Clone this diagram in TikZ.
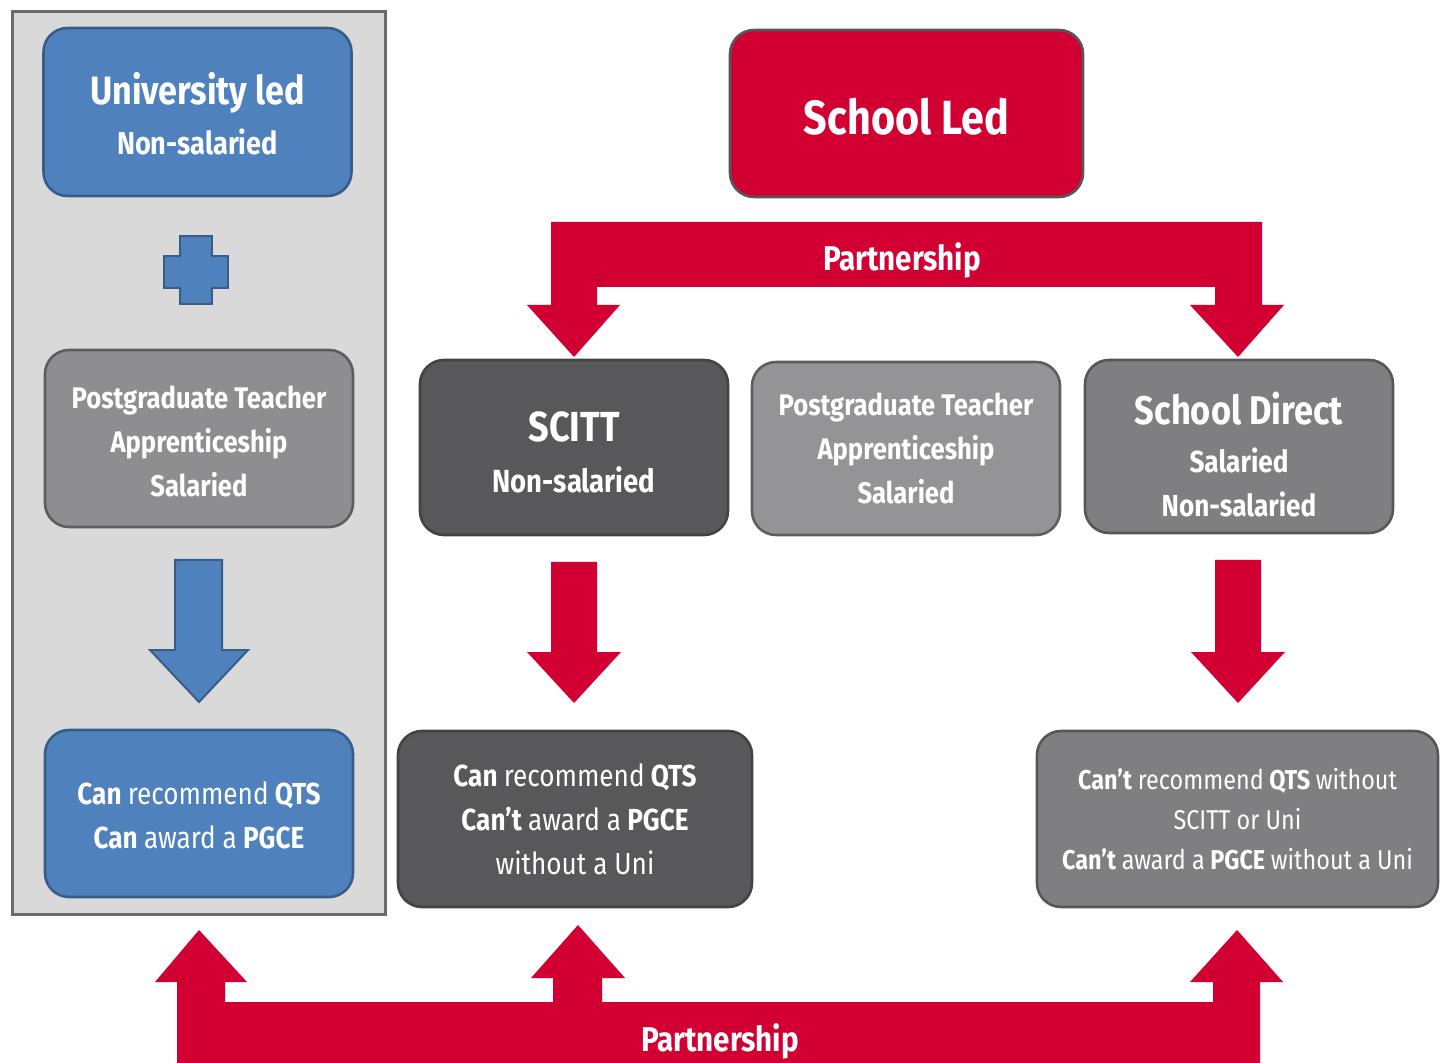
\documentclass[tikz,border=0pt]{standalone}
\usepackage{xcolor}
\usepackage{fontspec}
\setmainfont{Fira Sans}[FakeStretch=0.86]
\usepackage{tikz}

\definecolor{uniblue}{HTML}{4F81BD}
\definecolor{uniedge}{HTML}{385D8A}
\definecolor{schoolred}{HTML}{D20032}
\definecolor{panelgrey}{HTML}{D9D9D9}
\definecolor{paneledge}{HTML}{6B6B6B}
\definecolor{ptagrey}{HTML}{8E8E90}
\definecolor{ptaedge}{HTML}{5E5E5E}
\definecolor{scittgrey}{HTML}{58585A}
\definecolor{scittedge}{HTML}{434343}
\definecolor{sdgrey}{HTML}{7F7F81}
\definecolor{sdedge}{HTML}{575757}

% strut to push the text of a box down a little
\newcommand{\lift}[1]{\rule{0pt}{#1}}

\tikzset{
	box/.style={rounded corners=12pt, line width=1.3pt, minimum width=154pt, text=white, align=center, inner sep=0pt, font=\fontsize{15.2}{22}\selectfont\bfseries},
	unibox/.style={box, fill=uniblue, draw=uniedge},
	ledbox/.style={box, fill=schoolred, draw=sdedge},
	ptabox/.style={box, fill=ptagrey, draw=ptaedge, font=\fontsize{14.9}{22}\selectfont\bfseries},
	scittbox/.style={box, fill=scittgrey, draw=scittedge},
	sdbox/.style={box, fill=sdgrey, draw=sdedge},
}

\begin{document}
\begin{tikzpicture}[x=0.5pt,y=-0.5pt]
	\useasboundingbox (0,0) rectangle (1440,1063);
	
	% university led column
	\draw[fill=panelgrey, draw=paneledge, line width=1.5pt] (12,12) rectangle (385,914);
	
	\node[unibox, minimum height=84pt] (uni) at (197.5,112)
		{\lift{17.5pt}{\fontsize{19.8}{20}\selectfont University led}\\[3pt] {\fontsize{15.8}{20}\selectfont Non-salaried}};
	\draw[fill=uniblue, draw=uniedge, line width=1pt] (180,236) -- (212,236) -- (212,256) -- (228,256) -- (228,288) -- (212,288) -- (212,304) -- (180,304) -- (180,288) -- (164,288) -- (164,256) -- (180,256) -- cycle;
	\node[ptabox, minimum height=88.5pt] (ptaL) at (199,438.5)
		{\lift{14.2pt}Postgraduate Teacher\\ Apprenticeship\\ Salaried};
	\draw[fill=uniblue, draw=uniedge, line width=1pt] (175,560) -- (222,560) -- (222,650) -- (248,650) -- (199,702) -- (150,650) -- (175,650) -- cycle;
	\node[unibox, minimum height=83.5pt] (uniqts) at (199,813.5)
		{\lift{13.5pt}Can {\mdseries recommend} QTS\\ Can {\mdseries award a} PGCE};
	
	% school led side
	\node[ledbox, minimum width=176.5pt, minimum height=83.5pt, font=\fontsize{24}{26}\selectfont\bfseries] (led) at (906.5,113.5) {\lift{21pt}School Led};
	
	\fill[schoolred] (551,222) -- (1262,222) -- (1262,305) -- (1284,305) -- (1238,357) -- (1190,305) -- (1215,305) -- (1215,287) -- (597,287) -- (597,305) -- (620,305) -- (574,357) -- (527,305) -- (551,305) -- cycle;
	\node[text=white, font=\fontsize{17.2}{20}\selectfont\bfseries] (topp) at (902,260) {Partnership};
	
	\node[scittbox, minimum height=87.5pt] (scitt) at (574,447.5)
		{\lift{20pt}{\fontsize{21}{22}\selectfont SCITT}\\[3.5pt] {\fontsize{16}{20}\selectfont Non-salaried}};
	\node[ptabox, fill=ptagrey!95!white, minimum height=86.5pt] (ptaM) at (906,448.5)
		{Postgraduate Teacher\\ Apprenticeship\\ Salaried};
	\node[sdbox, minimum height=86.5pt] (sd) at (1239,446.5)
		{\lift{24pt}{\fontsize{20}{21}\selectfont School Direct}\\[2pt] Salaried\\ Non-salaried};
	
	\foreach \cx/\top in {574/562, 1238/560}{
		\fill[schoolred] (\cx-23,\top) -- (\cx+23,\top) -- (\cx+23,652) -- (\cx+47,652) -- (\cx,703) -- (\cx-47,652) -- (\cx-23,652) -- cycle;
	}
	
	\node[scittbox, minimum width=177pt, minimum height=88pt] (scittqts) at (575,819)
		{Can {\mdseries recommend} QTS\\ Can't {\mdseries award a} PGCE\\ {\mdseries without a Uni}};
	\node[sdbox, minimum width=200.5pt, minimum height=88pt, font=\fontsize{13.6}{20}\selectfont\bfseries] (sdqts) at (1237.5,819)
		{Can't {\mdseries recommend} QTS {\mdseries without}\\ {\mdseries SCITT or Uni}\\ Can't {\mdseries award a} PGCE {\mdseries without a Uni}};
	
	% bottom partnership
	\fill[schoolred] (177,1063) -- (177,982) -- (155,982) -- (199,930) -- (247,982) -- (225,982) -- (225,1002) -- (553,1002) -- (553,978) -- (531,978) -- (578,925) -- (625,978) -- (602,978) -- (602,1002) -- (1213,1002) -- (1213,982) -- (1190,982) -- (1237,930) -- (1283,982) -- (1260,982) -- (1260,1063) -- cycle;
	\node[text=white, font=\fontsize{17.2}{20}\selectfont\bfseries] (botp) at (720,1041) {Partnership};
\end{tikzpicture}
\end{document}
